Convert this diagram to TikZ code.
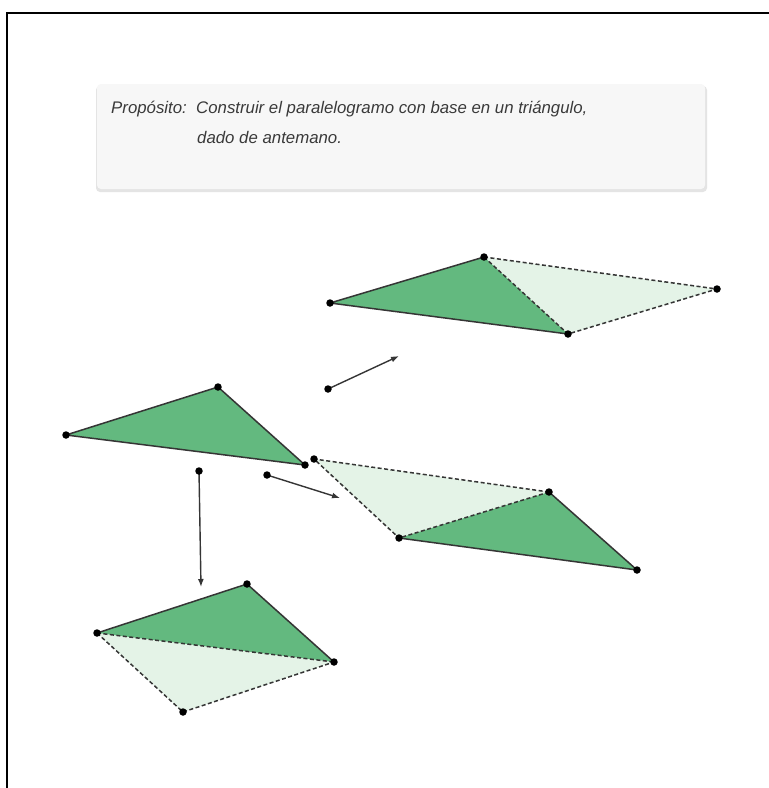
\documentclass[tikz,border=0pt]{standalone}
\usepackage{fontspec}
\setmainfont{Liberation Sans}
\usetikzlibrary{arrows.meta}
\definecolor{dkgreen}{HTML}{63B97F}
\definecolor{ltgreen}{HTML}{E4F3E7}
\definecolor{edgecol}{HTML}{353535}
\definecolor{boxfill}{HTML}{F7F7F7}
\definecolor{boxshadow}{HTML}{E4E4E4}
\definecolor{txtcol}{HTML}{3A3A3A}
\begin{document}
\begin{tikzpicture}[x=1pt,y=-1pt,
  solidedge/.style={draw=edgecol,line width=1.5pt,line join=round},
  dashededge/.style={draw=edgecol,line width=1.5pt,dash pattern=on 4pt off 2.5pt},
  ptdot/.style={circle,fill=black,inner sep=0pt,minimum size=7.5pt},
  vecarrow/.style={draw=edgecol,line width=1.4pt,-{Latex[length=8pt,width=6pt]}},
  txt/.style={anchor=base west,inner sep=0pt,text=txtcol,font=\itshape\fontsize{16.8}{19}\selectfont}]
\useasboundingbox (0,0) rectangle (769,788);
\fill[white] (0,0) rectangle (769,788);
% frame
\draw[line width=2.2pt] (7,788) -- (7,13) -- (769,13);
% purpose box
\fill[boxshadow,rounded corners=4pt] (96,86) rectangle (707,192);
\fill[boxfill,rounded corners=4pt] (97,84) rectangle (705,189);
\node[txt] (lbl) at (111,113) {Propósito:};
\node[txt] (l1) at (196,113) {Construir el paralelogramo con base en un triángulo,};
\node[txt] (l2) at (197,143) {dado de antemano.};
% points
\coordinate (A) at (330,303); \coordinate (B) at (484,257);
\coordinate (C) at (568,334); \coordinate (D) at (717,289);
\coordinate (P) at (66,435);  \coordinate (Q) at (218,387);
\coordinate (R) at (305,465);
\coordinate (S) at (314,459); \coordinate (T) at (549,492);
\coordinate (U) at (399,538); \coordinate (V) at (637,570);
\coordinate (W) at (97,633);  \coordinate (X) at (247,584);
\coordinate (Y) at (334,662); \coordinate (Z) at (183,712);
\coordinate (v1s) at (328,389); \coordinate (v1e) at (399,356);
\coordinate (v2s) at (267,475); \coordinate (v2e) at (340,498);
\coordinate (v3s) at (199,471); \coordinate (v3e) at (201,587);
% fills
\fill[ltgreen] (B) -- (D) -- (C) -- cycle;
\fill[dkgreen] (A) -- (B) -- (C) -- cycle;
\fill[dkgreen] (P) -- (Q) -- (R) -- cycle;
\fill[ltgreen] (S) -- (T) -- (U) -- cycle;
\fill[dkgreen] (T) -- (U) -- (V) -- cycle;
\fill[ltgreen] (W) -- (Y) -- (Z) -- cycle;
\fill[dkgreen] (W) -- (X) -- (Y) -- cycle;
% edges
\draw[solidedge] (B) -- (A) -- (C);
\draw[dashededge] (B) -- (C);
\draw[dashededge] (B) -- (D) -- (C);
\draw[solidedge] (P) -- (Q) -- (R) -- cycle;
\draw[solidedge] (T) -- (V) -- (U);
\draw[dashededge] (T) -- (S) -- (U);
\draw[dashededge] (T) -- (U);
\draw[solidedge] (W) -- (X) -- (Y);
\draw[dashededge] (W) -- (Y);
\draw[dashededge] (W) -- (Z) -- (Y);
% vectors
\draw[vecarrow] (v1s) -- (v1e);
\draw[vecarrow] (v2s) -- (v2e);
\draw[vecarrow] (v3s) -- (v3e);
% dots
\foreach \p in {A,B,C,D,P,Q,R,S,T,U,V,W,X,Y,Z,v1s,v2s,v3s}
  \node[ptdot] (dot\p) at (\p) {};
\end{tikzpicture}
\end{document}
